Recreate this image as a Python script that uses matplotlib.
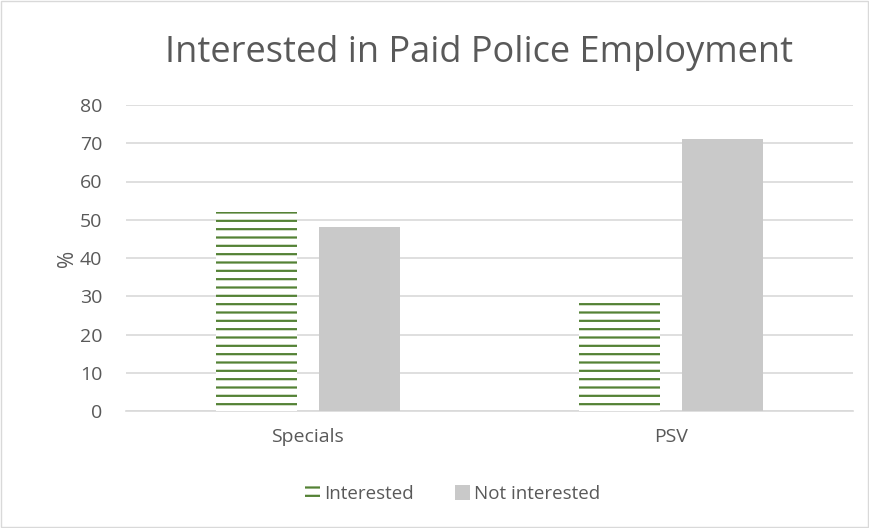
import matplotlib
matplotlib.use("Agg")
import matplotlib.pyplot as plt
import numpy as np
from matplotlib.patches import Rectangle, Patch

categories = ["Specials", "PSV"]
interested = [52, 29]
not_interested = [48, 71]
yticks = [0, 10, 20, 30, 40, 50, 60, 70, 80]

plt.rcParams['font.family'] = ['Open Sans', 'DejaVu Sans']
plt.rcParams['hatch.linewidth'] = 1.6

text_col = "#595959"
grid_col = "#d9d9d9"
green = "#548235"
grey = "#c9c9c9"

fig = plt.figure(figsize=(8.7, 5.28), dpi=100)
ax = fig.add_axes([126/870, 1-411/528, (853-126)/870, (411-105)/528])

x = np.arange(len(categories))
w = 0.223
gap = 0.06
ax.bar(x - (w + gap)/2, interested, w, facecolor="white", edgecolor=green,
       hatch="--", linewidth=0, label="Interested", zorder=3)
ax.bar(x + (w + gap)/2, not_interested, w, color=grey, linewidth=0,
       label="Not interested", zorder=3)

ax.set_xlim(-0.5, 1.5)
ax.set_ylim(0, 80)
ax.set_yticks(yticks)
ax.set_xticks(x)
ax.set_xticklabels(categories)
ax.tick_params(length=0, labelsize=14, labelcolor=text_col)
ax.tick_params(axis="y", pad=17)
ax.tick_params(axis="x", pad=12)
ax.grid(axis="y", color=grid_col, linewidth=1.2, zorder=0)
for s in ["top", "right", "left"]:
    ax.spines[s].set_visible(False)
ax.spines["bottom"].set_color(grid_col)
ax.spines["bottom"].set_linewidth(1.2)
ax.set_ylabel("%", fontsize=15, color=text_col, labelpad=1)

fig.text(0.551, 1-53/528, "Interested in Paid Police Employment", ha="center",
         va="center", fontsize=26, color=text_col)

handles = [Patch(facecolor="white", edgecolor=green, hatch="--", linewidth=0),
           Patch(facecolor=grey, linewidth=0)]
fig.legend(handles, ["Interested", "Not interested"], loc="center",
           bbox_to_anchor=(0.52, 1-494/528), ncol=2, frameon=False,
           fontsize=13.5, labelcolor=text_col, handlelength=0.8,
           handleheight=0.8, handletextpad=0.2, columnspacing=2.2)

fig.add_artist(Rectangle((0.001, 0.001), 0.997, 0.997, transform=fig.transFigure,
                         fill=False, edgecolor=grid_col, linewidth=1))

fig.savefig("out.png", dpi=100)
